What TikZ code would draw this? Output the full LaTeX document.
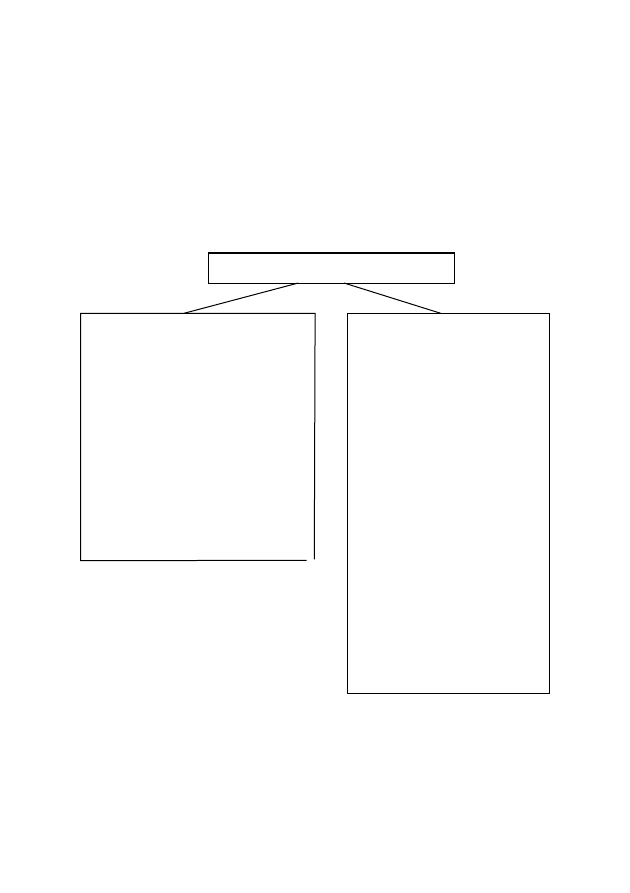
\documentclass[tikz,border=0pt]{standalone}
\begin{document}
\begin{tikzpicture}[x=1pt,y=-1pt,
  box/.style={draw=black,line width=1pt,minimum width=0pt,minimum height=0pt,inner sep=0pt,anchor=north west},
  link/.style={draw=black,line width=1pt}]
\useasboundingbox (0,0) rectangle (629,893);
\fill[white] (0,0) rectangle (629,893);
% top box
\node[box,minimum width=246pt,minimum height=30pt] (top) at (208.3,253) {};
\draw[line width=1.8pt] (top.north west) -- (top.north east);
% left box (open at lower right corner)
\node[anchor=north west,minimum width=234pt,minimum height=247pt,inner sep=0pt] (left) at (80.7,313.3) {};
\coordinate (lgapa) at (306.7,560.3);
\coordinate (lgapb) at (314.3,559.3);
\draw[link] (lgapa) -- (left.south west) -- (left.north west) -- (left.north east) -- (lgapb);
% right box
\node[box,minimum width=202.6pt,minimum height=379.7pt] (right) at (346.7,313.3) {};
% connectors
\coordinate (ta) at (298.3,283);
\coordinate (tb) at (344,283);
\coordinate (la) at (184,313.3);
\coordinate (ra) at (440.7,313.3);
\draw[link] (ta) -- (la);
\draw[link] (tb) -- (ra);
\end{tikzpicture}
\end{document}
